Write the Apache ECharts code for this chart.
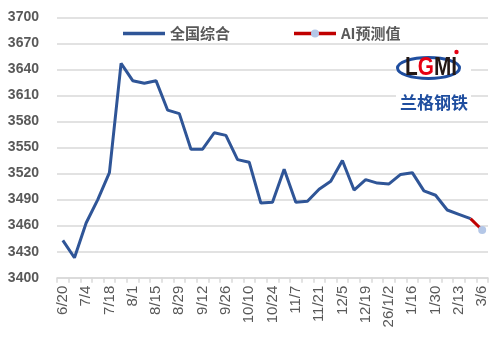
<!DOCTYPE html>
<html><head><meta charset="utf-8">
<script src="https://cdn.jsdelivr.net/npm/echarts@6/dist/echarts.min.js"></script>
<style>html,body{margin:0;padding:0;background:#fff}#c{width:496px;height:356px}</style>
</head><body><div id="c"></div>
<script>
const categories = ['6/20','6/27','7/4','7/11','7/18','7/25','8/1','8/8','8/15','8/22','8/29','9/5','9/12','9/19','9/26','10/3','10/10','10/17','10/24','10/31','11/7','11/14','11/21','11/28','12/5','12/12','12/19','12/26','26/1/2','1/9','1/16','1/23','1/30','2/6','2/13','2/27','3/6'];
const nationalValues = [3443,3423,3463,3490,3521,3647,3627,3624,3627,3593,3589,3548,3548,3567,3564,3536,3533,3486,3487,3525,3487,3488,3502,3511,3535,3501,3513,3509,3508,3519,3521,3500,3495,3478,3473,3468,null];
const aiValues = [null,null,null,null,null,null,null,null,null,null,null,null,null,null,null,null,null,null,null,null,null,null,null,null,null,null,null,null,null,null,null,null,null,null,null,3468,3455];
const seriesNames = ['全国综合','AI预测值'];

const chart = echarts.init(document.getElementById('c'), null, {renderer:'canvas'});
const grey = '#595959';
const gridCol = '#D9D9D9';
const legendText = {fontFamily:'Noto Sans CJK SC', fontSize:15, color:grey, fontWeight:'bold'};
chart.setOption({
  animation:false,
  backgroundColor:'#fff',
  grid:{left:57, right:8, top:17.3, bottom:78.3, containLabel:false},
  legend:[
    {left:123, top:26, padding:0, data:[{name:seriesNames[0], icon:'rect'}], itemWidth:42, itemHeight:3.5, itemGap:5,
     itemStyle:{color:'#2F5597'}, textStyle:legendText},
    {left:294, top:26, padding:0, data:[{name:seriesNames[1], icon:'rect'}], itemWidth:42, itemHeight:3.5, itemGap:5,
     itemStyle:{color:'#C00000'}, textStyle:legendText}
  ],
  xAxis:{
    type:'category', data:categories, boundaryGap:true,
    axisLine:{lineStyle:{color:gridCol, width:1.5}},
    axisTick:{show:true, interval:0, length:5, lineStyle:{color:gridCol, width:1.5}},
    axisLabel:{interval:1, rotate:90, margin:8, fontSize:15, color:grey, fontFamily:'Liberation Sans'}
  },
  yAxis:{
    type:'value', min:3400, max:3700, interval:30,
    axisLine:{show:false}, axisTick:{show:false},
    splitLine:{lineStyle:{color:gridCol, width:1.5}},
    axisLabel:{margin:18, fontSize:14, fontWeight:'bold', color:grey, fontFamily:'Liberation Sans',
               formatter:function(v){return String(v);}}
  },
  series:[
    {name:seriesNames[0], type:'line', data:nationalValues, symbol:'none', smooth:false,
     lineStyle:{color:'#2F5597', width:3}, itemStyle:{color:'#2F5597'}, z:3},
    {name:seriesNames[1], type:'line', data:aiValues, symbol:'circle', symbolSize:8, showSymbol:true,
     lineStyle:{color:'#C00000', width:3}, itemStyle:{color:'#B4C7E7'}, z:4}
  ],
  graphic:[
    {type:'circle', shape:{cx:315, cy:33.5, r:4}, style:{fill:'#B4C7E7'}, z:20},
    {type:'rect', left:396, top:50, shape:{width:75, height:62}, style:{fill:'#fff'}, z:10},
    {type:'ellipse', shape:{cx:428.5, cy:68, rx:31, ry:10.5}, style:{fill:'#fff', stroke:'#1F4E9F', lineWidth:3}, z:11},
    {type:'text', x:405, y:55, scaleX:0.8, z:12,
     style:{text:'{k|L}{r|G}{k|MI}', rich:{
       k:{fontFamily:'Liberation Sans', fontWeight:'bold', fontSize:26, fill:'#231815'},
       r:{fontFamily:'Liberation Sans', fontWeight:'bold', fontSize:26, fill:'#E60012'}}}},
    {type:'circle', shape:{cx:456.5, cy:52, r:2.2}, style:{fill:'#E60012'}, z:13},
    {type:'text', left:400, top:94, z:12,
     style:{text:'兰格钢铁', fontFamily:'Noto Sans CJK SC', fontWeight:'bold', fontSize:17, fill:'#1F4E9F'}}
  ]
});
</script></body></html>
